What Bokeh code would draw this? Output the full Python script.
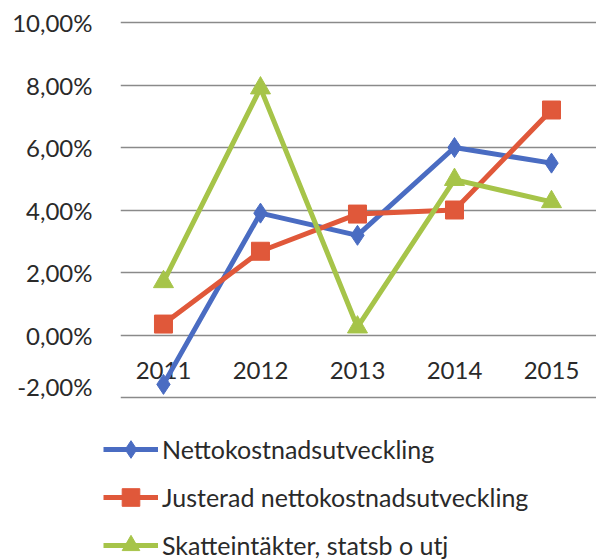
from bokeh.plotting import figure
from bokeh.models import Legend, LegendItem, Range1d, FixedTicker, ColumnDataSource
from bokeh.core.properties import value
from bokeh.embed import file_html
from bokeh.resources import INLINE

years = [2011, 2012, 2013, 2014, 2015]
year_labels = ["2011", "2012", "2013", "2014", "2015"]
netto = [-1.58, 3.9, 3.19, 6.0, 5.5]
justerad = [0.35, 2.68, 3.87, 4.0, 7.2]
skatt = [1.7, 7.9, 0.25, 4.97, 4.26]
y_ticks = [-2, 0, 2, 4, 6, 8, 10]
y_tick_labels = ["-2,00%", "0,00%", "2,00%", "4,00%", "6,00%", "8,00%", "10,00%"]
series_names = ["Nettokostnadsutveckling", "Justerad nettokostnadsutveckling", "Skatteintäkter, statsb o utj"]

FONT = "Lato"
TXT = "#2a2a2a"
BLUE = "#4A6CC2"
ORANGE = "#E0583A"
GREEN = "#A6C449"
styles = [(BLUE, "diamond", 20), (ORANGE, "square", 18), (GREEN, "triangle", 20)]
series = [netto, justerad, skatt]

p = figure(width=596, height=400, output_backend="svg", toolbar_location=None,
           x_range=Range1d(2010.557, 2015.464), y_range=Range1d(-2.064, 10.064),
           min_border_left=120, min_border_right=0, min_border_top=20, min_border_bottom=1)
p.outline_line_color = None
p.xaxis.visible = False
p.xgrid.visible = False
p.ygrid.grid_line_color = "#8a8a8a"
p.ygrid.grid_line_width = 1.5
p.yaxis.ticker = FixedTicker(ticks=y_ticks)
p.yaxis.major_label_overrides = {t: l for t, l in zip(y_ticks, y_tick_labels)}
p.yaxis.axis_line_color = None
p.yaxis.major_tick_line_color = None
p.yaxis.minor_tick_line_color = None
p.yaxis.major_label_standoff = 22
p.yaxis.major_label_text_font = FONT
p.yaxis.major_label_text_font_size = "24px"
p.yaxis.major_label_text_color = TXT

# year labels drawn inside the plot area
src = ColumnDataSource(dict(x=years, y=[-1.15] * len(years), t=year_labels))
p.text("x", "y", text="t", source=src, text_align="center", text_baseline="middle",
       text_font=value(FONT), text_font_size="24px", text_color=TXT)

for vals, (col, mk, sz) in zip(series, styles):
    p.line(years, vals, line_color=col, line_width=5)
    p.scatter(years, vals, marker=mk, size=sz, fill_color=col, line_color=col)

# legend panel (separate root so its frame starts at the left edge)
lg = figure(width=596, height=159, output_backend="svg", toolbar_location=None,
            x_axis_type=None, y_axis_type=None, min_border=0,
            x_range=Range1d(0, 1), y_range=Range1d(0, 1))
lg.outline_line_color = None
lg.grid.visible = False
items = []
for name, vals, (col, mk, sz) in zip(series_names, series, styles):
    # same series, outside the visible range: only used for the legend glyphs
    r1 = lg.line(years, vals, line_color=col, line_width=5)
    r2 = lg.scatter(years, vals, marker=mk, size=sz, fill_color=col, line_color=col)
    items.append(LegendItem(label=name, renderers=[r1, r2]))
legend = Legend(items=items, location=(103, -8), orientation="vertical",
                label_text_font=FONT, label_text_font_size="25px", label_text_color=TXT,
                glyph_width=55, glyph_height=44, label_height=24, label_standoff=4,
                spacing=4, padding=0, margin=0, border_line_color=None,
                background_fill_alpha=0)
lg.add_layout(legend, "center")

open("out.html", "w").write(file_html([p, lg], INLINE))
